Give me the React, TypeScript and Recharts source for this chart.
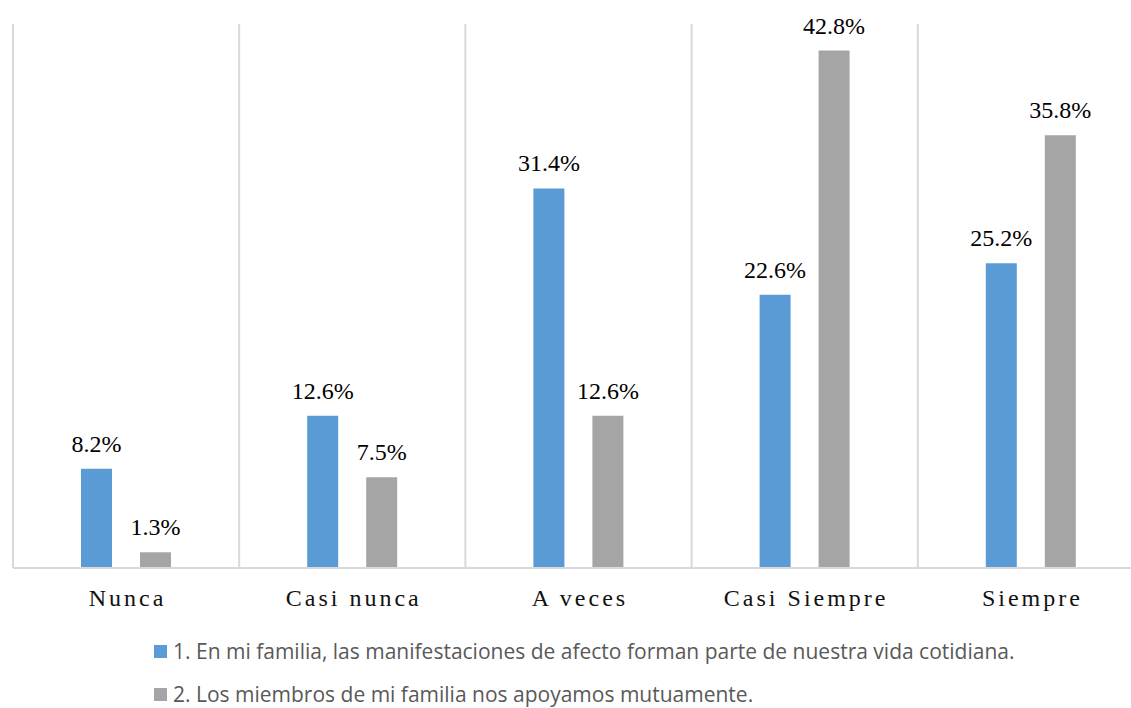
import React from 'react';
import { BarChart, Bar, XAxis, YAxis, CartesianGrid, LabelList } from 'recharts';

const categories = ['Nunca', 'Casi nunca', 'A veces', 'Casi Siempre', 'Siempre'];
const seriesNames = [
  '1. En mi familia, las manifestaciones de afecto forman parte de nuestra vida cotidiana.',
  '2. Los miembros de mi familia nos apoyamos mutuamente.',
];
const seriesColors = ['#5b9bd5', '#a5a5a5'];
const series1 = [8.2, 12.6, 31.4, 22.6, 25.2];
const series2 = [1.3, 7.5, 12.6, 42.8, 35.8];
const yDomain = [0, 45];

const data = categories.map((c, i) => ({ name: c, s1: series1[i], s2: series2[i] }));

const fmt = (v: any) => `${Number(v).toFixed(1)}%`;

const SERIF = "'Liberation Serif', 'Times New Roman', serif";
const SANS = "'Open Sans', 'Noto Sans', sans-serif";

const Tick = (props: any) => {
  const { x, y, payload } = props;
  return (
    <text
      x={x + 1.5}
      y={y + 38}
      textAnchor="middle"
      style={{ fontFamily: SERIF, fontSize: 24, letterSpacing: 3 }}
      fill="#111"
    >
      {payload.value}
    </text>
  );
};

const ValueLabel = (props: any) => {
  const { x, y, width, value } = props;
  return (
    <text
      x={x + width / 2}
      y={y - 17}
      textAnchor="middle"
      style={{ fontFamily: SERIF, fontSize: 24 }}
      fill="#000"
    >
      {fmt(value)}
    </text>
  );
};

const gridGen = ({ offset }: any) => {
  const n = categories.length;
  const out: number[] = [];
  for (let i = 0; i <= n; i++) out.push(offset.left + (i * offset.width) / n);
  return out;
};

const legendCenters = [651, 694];

export default function App() {
  return (
    <div
      style={{
        position: 'absolute',
        left: 0,
        top: 0,
        width: 1131,
        height: 708,
        overflow: 'hidden',
        background: '#fff',
        fontFamily: SERIF,
      }}
    >
      <BarChart
        width={1160}
        height={708}
        data={data}
        margin={{ top: 24, right: 16, bottom: 100, left: 13 }}
        barSize={31}
        barGap={28}
      >
        <CartesianGrid
          horizontal={false}
          vertical={true}
          stroke="#d9d9d9"
          strokeWidth={2}
          verticalCoordinatesGenerator={gridGen}
        />
        <XAxis
          dataKey="name"
          height={40}
          tickSize={0}
          tickMargin={0}
          tickLine={false}
          axisLine={{ stroke: '#d9d9d9', strokeWidth: 2 }}
          tick={<Tick />}
          interval={0}
        />
        <YAxis hide domain={yDomain} />
        <Bar dataKey="s1" fill={seriesColors[0]} isAnimationActive={false}>
          <LabelList dataKey="s1" content={<ValueLabel />} />
        </Bar>
        <Bar dataKey="s2" fill={seriesColors[1]} isAnimationActive={false}>
          <LabelList dataKey="s2" content={<ValueLabel />} />
        </Bar>
      </BarChart>
      {seriesNames.map((name, i) => (
        <div
          key={name}
          style={{
            position: 'absolute',
            left: 154,
            top: legendCenters[i] - 10,
            height: 20,
            display: 'flex',
            alignItems: 'center',
            whiteSpace: 'nowrap',
            fontFamily: SANS,
            fontSize: 21,
            lineHeight: '20px',
            color: '#595959',
          }}
        >
          <span
            style={{
              display: 'inline-block',
              width: 13,
              height: 13,
              background: seriesColors[i],
              marginRight: 6,
            }}
          />
          <span>{name}</span>
        </div>
      ))}
    </div>
  );
}
